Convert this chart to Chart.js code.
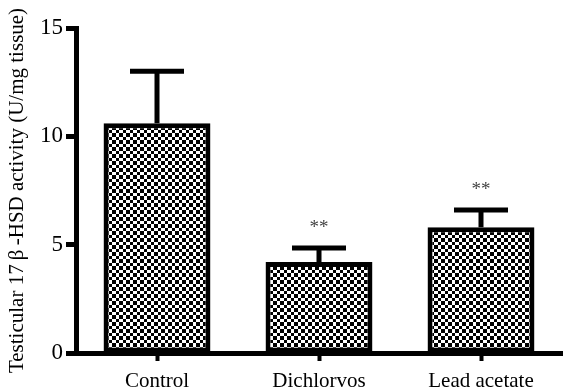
<!DOCTYPE html>
<html>
<head>
<meta charset="utf-8">
<script src="https://cdn.jsdelivr.net/npm/chart.js@4/dist/chart.umd.min.js"></script>
<style>
  html, body { margin: 0; padding: 0; background: #fff; }
  canvas { display: block; }
</style>
</head>
<body>
<canvas id="chart" width="564" height="390"></canvas>
<script>
const groups = ['Control', 'Dichlorvos', 'Lead acetate'];
const meanActivity = [10.6, 4.2, 5.8];
const errActivity = [2.4, 0.65, 0.8];
const marks = ['', '**', '**'];
const yTicks = [0, 5, 10, 15];

const SERIF = '"Liberation Serif", "Times New Roman", serif';

// checkerboard fill like the printed figure
function checkerPattern() {
  const c = document.createElement('canvas');
  c.width = 7;
  c.height = 7;
  const g = c.getContext('2d');
  g.fillStyle = '#fff';
  g.fillRect(0, 0, 7, 7);
  g.fillStyle = '#000';
  g.fillRect(0, 0, 4, 4);
  g.fillRect(4, 4, 3, 3);
  return document.getElementById('chart').getContext('2d').createPattern(c, 'repeat');
}

// SEM bars and significance stars on top of each bar
const errorBars = {
  id: 'errorBars',
  afterDatasetsDraw(chart) {
    const ctx = chart.ctx;
    const yScale = chart.scales.y;
    const meta = chart.getDatasetMeta(0);
    ctx.save();
    ctx.strokeStyle = '#000';
    ctx.lineWidth = 5;
    meta.data.forEach((bar, i) => {
      const top = yScale.getPixelForValue(meanActivity[i] + errActivity[i]);
      ctx.beginPath();
      ctx.moveTo(bar.x, bar.y);
      ctx.lineTo(bar.x, top);
      ctx.moveTo(bar.x - 27, top);
      ctx.lineTo(bar.x + 27, top);
      ctx.stroke();
      if (marks[i]) {
        ctx.fillStyle = '#444';
        ctx.font = '19px ' + SERIF;
        ctx.textAlign = 'center';
        ctx.textBaseline = 'alphabetic';
        ctx.fillText(marks[i], bar.x, top - 15);
      }
    });
    ctx.restore();
  },
};

new Chart(document.getElementById('chart'), {
  type: 'bar',
  data: {
    labels: groups,
    datasets: [{
      data: meanActivity,
      backgroundColor: checkerPattern(),
      borderColor: '#000',
      borderWidth: 5,
      borderSkipped: false,
      barPercentage: 0.66,
      categoryPercentage: 1,
    }],
  },
  options: {
    responsive: false,
    animation: false,
    events: [],
    layout: { padding: { top: 28, right: 2, left: 0, bottom: 0 } },
    plugins: {
      legend: { display: false },
      tooltip: { enabled: false },
    },
    scales: {
      x: {
        afterFit: (s) => { s.height = 37; },
        grid: {
          offset: false,
          drawOnChartArea: false,
          drawTicks: true,
          tickLength: 8,
          tickWidth: 4,
          tickColor: '#000',
        },
        border: { display: true, width: 5, color: '#000' },
        ticks: {
          color: '#000',
          padding: 8,
          font: { family: SERIF, size: 21 },
        },
      },
      y: {
        min: 0,
        max: 15,
        afterFit: (s) => { s.width = 76; },
        afterBuildTicks: (s) => { s.ticks = yTicks.map((v) => ({ value: v })); },
        grid: {
          drawOnChartArea: false,
          drawTicks: true,
          tickLength: 10,
          tickWidth: 5,
          tickColor: '#000',
        },
        border: { display: true, width: 5, color: '#000' },
        ticks: {
          color: '#000',
          padding: 3,
          font: { family: SERIF, size: 23 },
        },
        title: {
          display: true,
          text: 'Testicular 17\u2009β\u2009-HSD activity (U/mg tissue)',
          color: '#000',
          font: { family: SERIF, size: 21 },
          padding: { top: 5, bottom: 0 },
        },
      },
    },
  },
  plugins: [errorBars],
});
</script>
</body>
</html>
